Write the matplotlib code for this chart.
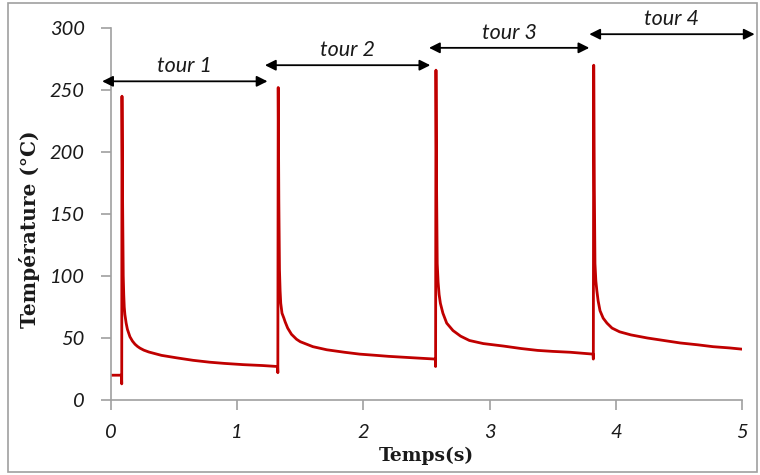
import matplotlib.pyplot as plt
from matplotlib.patches import Rectangle

# temperature trace, one list pair per tour
t_tour1 = [0, 0.083, 0.085, 0.087, 0.092, 0.097, 0.101, 0.105, 0.11, 0.12, 0.13, 0.15, 0.17,
           0.19, 0.21, 0.23, 0.26, 0.3, 0.4, 0.52, 0.65, 0.78, 0.9, 1.05, 1.2, 1.32]
T_tour1 = [20, 20, 13, 245, 160, 100, 85, 75, 69, 62, 57, 51, 47.5,
           45, 43.2, 41.8, 40.2, 38.7, 36, 34, 32, 30.5, 29.5, 28.5, 27.8, 27]
t_tour2 = [1.322, 1.325, 1.33, 1.335, 1.34, 1.345, 1.355, 1.37, 1.38, 1.4, 1.43, 1.47, 1.5,
           1.55, 1.6, 1.71, 1.85, 1.97, 2.1, 2.2, 2.4, 2.57]
T_tour2 = [22, 252, 160, 105, 88, 78, 70, 66, 63, 58, 53, 49, 47,
           45, 43, 40.5, 38.5, 37, 36, 35.2, 34, 33]
t_tour3 = [2.572, 2.575, 2.58, 2.585, 2.592, 2.6, 2.61, 2.63, 2.66, 2.71, 2.77, 2.84, 2.95,
           3.11, 3.25, 3.38, 3.5, 3.64, 3.82]
T_tour3 = [27, 266, 170, 110, 95, 85, 78, 70, 62, 56, 51.5, 48, 45.5,
           43.5, 41.5, 40, 39.2, 38.5, 37]
t_tour4 = [3.822, 3.825, 3.83, 3.835, 3.842, 3.85, 3.86, 3.875, 3.9, 3.93, 3.97, 4.03, 4.12,
           4.25, 4.38, 4.51, 4.65, 4.77, 4.9, 5.0]
T_tour4 = [33, 270, 170, 110, 96, 88, 80, 72, 66, 62, 58, 55, 52.5,
           50, 48, 46, 44.5, 43, 42, 41]

# arrows marking each tour: start, end, height
tour_labels = ["tour 1", "tour 2", "tour 3", "tour 4"]
arrow_start = [-0.07, 1.22, 2.52, 3.79]
arrow_end = [1.24, 2.53, 3.79, 5.1]
arrow_y = [257, 270, 284, 295]

x_ticks = [0, 1, 2, 3, 4, 5]
y_ticks = [0, 50, 100, 150, 200, 250, 300]

fig = plt.figure(figsize=(7.6, 4.75), dpi=100)
ax = fig.add_axes([111 / 760, 75 / 475, 631 / 760, 372 / 475])

time = t_tour1 + t_tour2 + t_tour3 + t_tour4
temp = T_tour1 + T_tour2 + T_tour3 + T_tour4
ax.plot(time, temp, color='#c00000', lw=2.0, solid_joinstyle='round')

ax.set_xlim(0, 5)
ax.set_ylim(0, 300)
ax.set_xticks(x_ticks)
ax.set_yticks(y_ticks)

tick_font = dict(family='Lato', style='italic', size=14.5, color='#1a1a1a')
ax.set_xticklabels([str(v) for v in x_ticks], **tick_font)
ax.set_yticklabels([str(v) for v in y_ticks], **tick_font)
ax.tick_params(axis='both', direction='out', length=7, color='#a0a0a0', width=1.2)
ax.tick_params(axis='x', pad=10)
ax.tick_params(axis='y', pad=12)

for side in ['top', 'right']:
    ax.spines[side].set_visible(False)
for side in ['left', 'bottom']:
    ax.spines[side].set_color('#a0a0a0')
    ax.spines[side].set_linewidth(1.2)

label_font = dict(family='DejaVu Serif', weight='bold', color='#1a1a1a')
ax.set_xlabel('Temps(s)', size=13.5, **label_font)
ax.set_ylabel('Température (°C)', size=14.5, **label_font)
ax.xaxis.set_label_coords(0.5, -0.125)
ax.yaxis.set_label_coords(-0.113, 0.46)

for lab, x0, x1, y in zip(tour_labels, arrow_start, arrow_end, arrow_y):
    ax.annotate('', xy=(x0, y), xytext=(x1, y), annotation_clip=False,
                arrowprops=dict(arrowstyle='<|-|>', color='black', lw=1.3,
                                mutation_scale=16, shrinkA=0, shrinkB=0))
    ax.text((x0 + x1) / 2, y + 4, lab, ha='center', va='bottom',
            family='Lato', style='italic', size=15.5, color='#1a1a1a', clip_on=False)

# outer frame around the chart
fig.patches.append(Rectangle((8 / 760, 3 / 475), 749 / 760, 469 / 475,
                             transform=fig.transFigure, fill=False,
                             edgecolor='#a0a0a0', lw=1.2))

fig.savefig('out.png', dpi=100)
